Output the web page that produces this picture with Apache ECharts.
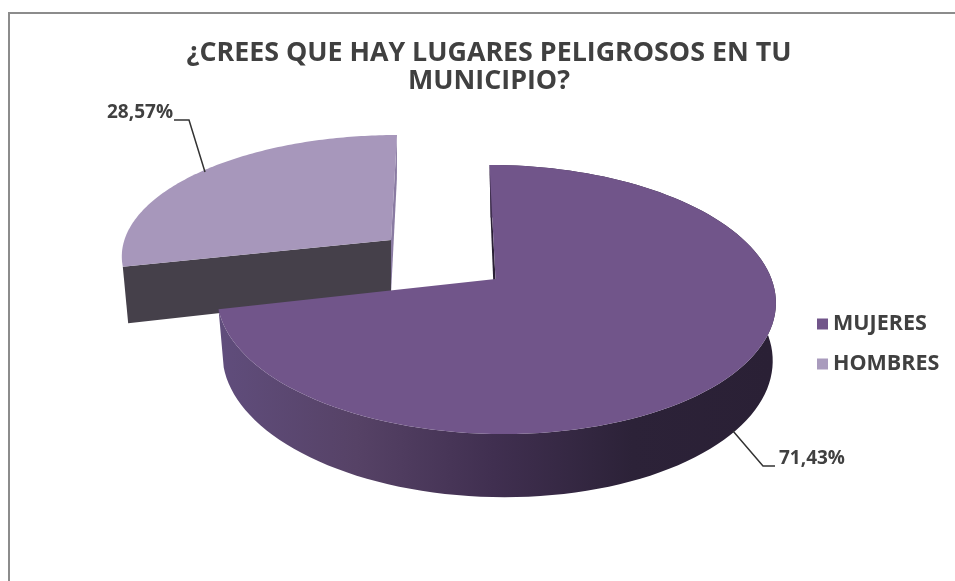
<!DOCTYPE html>
<html>
<head>
<meta charset="utf-8">
<style>
  html, body { margin: 0; padding: 0; background: #fff; }
  #chart { width: 955px; height: 581px; }
</style>
</head>
<body>
<div id="chart"></div>
<script src="https://cdn.jsdelivr.net/npm/echarts@6/dist/echarts.min.js"></script>
<script>
var titleLines = ["¿CREES QUE HAY LUGARES PELIGROSOS EN TU", "MUNICIPIO?"];
var categories = ["MUJERES", "HOMBRES"];
var values = [71.43, 28.57];

var fontName = "Open Sans";
var textColor = "#404040";
var total = values[0] + values[1];

// each slice has its own projection, the picture is a perspective 3D pie
var slices = {
  MUJERES: { x0: 495.5, y0: 279, p: 0.1524, A: 131.4, B: 276, C: 6.9, sx: 0.985, ox: 1, sy: 1.04, d: 57 },
  HOMBRES: { x0: 391, y0: 240, p: 0.1136, A: 116.9, B: 266.6, C: -6.7, sx: 0.98, ox: 0, sy: 1.1, d: 54 },
};

function project(s, deg, lower) {
  var t = (deg * Math.PI) / 180;
  var u = Math.sin(t);
  var v = -Math.cos(t);
  var w = 1 - s.p * v;
  var dx = (s.B * u + s.C * v) / w;
  var dy = (s.A * v) / w;
  if (lower) return [s.x0 + s.ox + dx * s.sx, s.y0 + s.d + dy * s.sy];
  return [s.x0 + dx, s.y0 + dy];
}

function arc(s, from, to, lower) {
  var pts = [];
  var n = 120;
  for (var i = 0; i <= n; i++) {
    pts.push(project(s, from + ((to - from) * i) / n, lower));
  }
  return pts;
}

function poly(points, fill) {
  return { type: "polygon", shape: { points: points }, style: { fill: fill } };
}

function leader(points) {
  return {
    type: "polyline",
    shape: { points: points },
    style: { stroke: "#333", lineWidth: 1.5, fill: null },
  };
}

function pctLabel(value, x, y, align) {
  return {
    type: "text",
    style: {
      text: value.toFixed(2).replace(".", ",") + "%",
      x: x,
      y: y,
      align: align,
      verticalAlign: "middle",
      font: "bold 19px " + fontName,
      fill: textColor,
    },
  };
}

function renderMujeres(params, api) {
  var s = slices.MUJERES;
  var value = api.value(0);
  var end = (value / total) * 360;
  var upper = arc(s, 0, end, false);
  var lower = arc(s, 0, end, true);
  var apex = [s.x0, s.y0];
  var lowApex = [s.x0, s.y0 + s.d];
  var wallFill = new echarts.graphic.LinearGradient(219, 0, 770, 0, [
    { offset: 0, color: "#604d7c" },
    { offset: 0.25, color: "#564266" },
    { offset: 0.5, color: "#402f50" },
    { offset: 0.75, color: "#2c2238" },
    { offset: 1, color: "#2a2035" },
  ], true);
  return {
    type: "group",
    children: [
      poly([upper[0], lower[0], lowApex, apex], "#2a2035"),
      poly(upper.concat(lower.slice().reverse()), wallFill),
      poly([apex].concat(upper), "#71558a"),
      leader([[733, 431], [763, 466], [775, 466]]),
      pctLabel(value, 779, 459, "left"),
    ],
  };
}

function renderHombres(params, api) {
  var s = slices.HOMBRES;
  var value = api.value(0);
  var start = 360 - (value / total) * 360;
  var upper = arc(s, start, 360, false);
  var apex = [s.x0, s.y0];
  var lowApex = [s.x0, s.y0 + s.d];
  return {
    type: "group",
    children: [
      poly([project(s, 360, false), project(s, 360, true), lowApex, apex], "#8a7ba2"),
      poly([project(s, start, false), project(s, start, true), lowApex, apex], "#45404a"),
      poly([apex].concat(upper), "#a797bb"),
      leader([[174, 120], [189, 120], [205, 172]]),
      pctLabel(value, 173, 113, "right"),
    ],
  };
}

var chart = echarts.init(document.getElementById("chart"));
chart.setOption({
  animation: false,
  title: {
    text: titleLines.join("\n"),
    left: 484,
    top: 34,
    textAlign: "center",
    textStyle: { fontFamily: fontName, fontSize: 26.8, fontWeight: "bold", color: textColor, lineHeight: 28 },
  },
  legend: {
    data: categories,
    orient: "vertical",
    left: 812,
    top: 308,
    icon: "rect",
    itemWidth: 11,
    itemHeight: 11,
    itemGap: 18,
    textStyle: { fontFamily: fontName, fontSize: 21.5, fontWeight: "bold", color: textColor },
  },
  graphic: [
    {
      type: "polyline",
      shape: { points: [[9, 581], [9, 13], [955, 13]] },
      style: { stroke: "#8c8c8c", lineWidth: 2, fill: null },
      silent: true,
    },
  ],
  series: [
    { type: "custom", name: categories[1], coordinateSystem: "none", z: 2, itemStyle: { color: "#a99bbd" }, renderItem: renderHombres, data: [values[1]] },
    { type: "custom", name: categories[0], coordinateSystem: "none", z: 3, itemStyle: { color: "#71558a" }, renderItem: renderMujeres, data: [values[0]] },
  ],
});
</script>
</body>
</html>
